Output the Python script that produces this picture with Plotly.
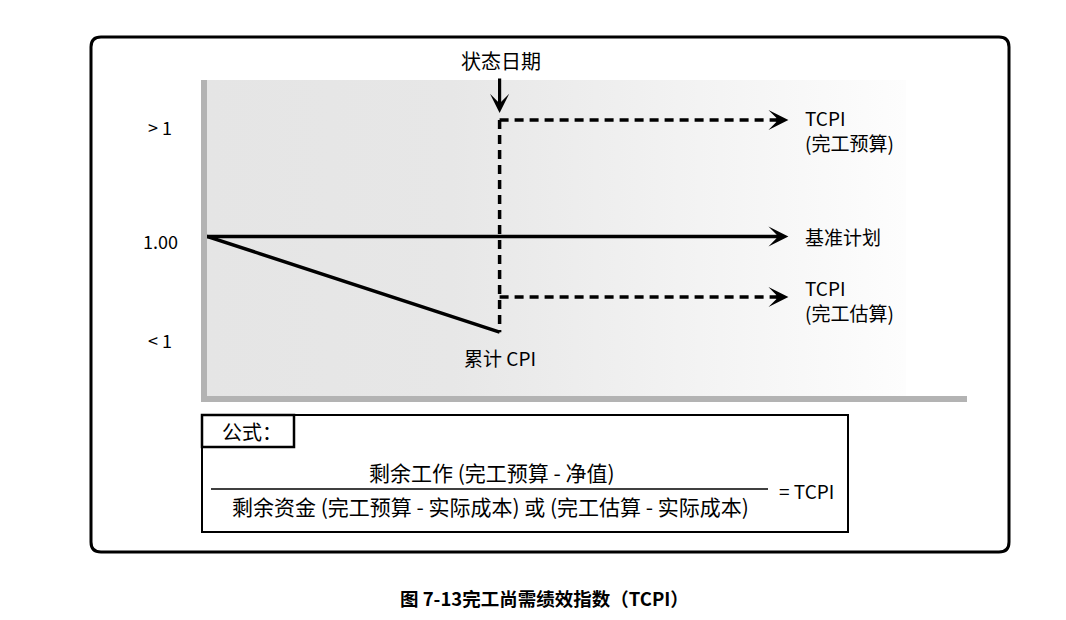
import plotly.graph_objects as go

# ---------------- data ----------------
x_start = 0.0          # project start
status_date = 3.85     # status date on the time axis
x_end = 7.65           # end of the projection arrows
baseline_cpi = 1.00
cumulative_cpi = 0.70
tcpi_bac = 1.365
tcpi_eac = 0.81
status_arrow_tip = 1.387

baseline_x = [x_start, x_end]
baseline_y = [baseline_cpi, baseline_cpi]
cpi_x = [x_start, status_date]
cpi_y = [baseline_cpi, cumulative_cpi]
status_x = [status_date, status_date]
status_y = [tcpi_bac, cumulative_cpi]
bac_x = [status_date, x_end]
bac_y = [tcpi_bac, tcpi_bac]
eac_x = [status_date, x_end]
eac_y = [tcpi_eac, tcpi_eac]

tick_labels = ['> 1', '1.00', '< 1']
tick_values = [1.343, 0.987, 0.675]

right_labels = ['TCPI<br>(完工预算)', '基准计划', 'TCPI<br>(完工估算)']
right_label_y = [1.333, 1.0, 0.80]

status_label = '状态日期'
cpi_label = '累计 CPI'
cpi_label_y = 0.622
formula_title = '公式：'
numerator = '剩余工作 (完工预算 - 净值)'
denominator = '剩余资金 (完工预算 - 实际成本) 或 (完工估算 - 实际成本)'
equals_text = '= TCPI'
caption = '图 7-13完工尚需绩效指数（TCPI）'

X_RANGE = [0, 10]
Y_RANGE = [0.5, 1.49]

# ---------------- layout geometry (pixels) ----------------
W, H = 1066, 620
L, R, T, B = 207, 967, 80, 396
FONT = 'Noto Sans CJK SC, Noto Sans, sans-serif'


def px(p):
    return (p - L) / (R - L)


def py(p):
    return (B - p) / (B - T)


def dx(p):
    return X_RANGE[0] + px(p) * (X_RANGE[1] - X_RANGE[0])


back = 8 / (R - L) * (X_RANGE[1] - X_RANGE[0])

fig = go.Figure()

# gradient background
gx = dx(906)
fig.add_trace(go.Scatter(
    x=[X_RANGE[0], gx, gx, X_RANGE[0], X_RANGE[0]],
    y=[Y_RANGE[0], Y_RANGE[0], Y_RANGE[1], Y_RANGE[1], Y_RANGE[0]],
    mode='lines', fill='toself', line=dict(width=0),
    fillgradient=dict(type='horizontal',
                      colorscale=[[0, '#e5e5e5'], [0.35, '#e7e7e7'], [1, '#fdfdfd']]),
    hoverinfo='skip', showlegend=False))

LW = 3.5
fig.add_trace(go.Scatter(x=[baseline_x[0], baseline_x[1] - back], y=baseline_y, mode='lines',
                         line=dict(color='black', width=LW), hoverinfo='skip', showlegend=False))
fig.add_trace(go.Scatter(x=cpi_x, y=cpi_y, mode='lines',
                         line=dict(color='black', width=LW), hoverinfo='skip', showlegend=False))
dash = '9px,6px'
fig.add_trace(go.Scatter(x=status_x, y=status_y, mode='lines',
                         line=dict(color='black', width=LW, dash=dash), hoverinfo='skip', showlegend=False))
fig.add_trace(go.Scatter(x=[bac_x[0], bac_x[1] - back], y=bac_y, mode='lines',
                         line=dict(color='black', width=LW, dash=dash), hoverinfo='skip', showlegend=False))
fig.add_trace(go.Scatter(x=[eac_x[0], eac_x[1] - back], y=eac_y, mode='lines',
                         line=dict(color='black', width=LW, dash=dash), hoverinfo='skip', showlegend=False))


def text_ann(x, y, text, size, xref='paper', yref='paper', **kw):
    d = dict(x=x, y=y, xref=xref, yref=yref, text=text, showarrow=False,
             xanchor='center', yanchor='middle',
             font=dict(family=FONT, size=size, color='black'))
    d.update(kw)
    return d


annotations = []
# arrowheads
for yy in [baseline_y[1], bac_y[1], eac_y[1]]:
    annotations.append(dict(x=x_end, y=yy, xref='x', yref='y', text='', showarrow=True,
                            ax=-14, ay=0, arrowhead=3, arrowwidth=LW, arrowsize=0.95,
                            arrowcolor='black'))
# status date arrow
annotations.append(dict(x=status_date, y=status_arrow_tip, xref='x', yref='y', text='',
                        showarrow=True, ax=0, ay=-36, arrowhead=3, arrowwidth=3.2,
                        arrowsize=1.0, arrowcolor='black'))
annotations.append(text_ann(px(501), py(61), status_label, 20))
# left labels
for lab, val in zip(tick_labels, tick_values):
    annotations.append(text_ann(px(160), val, lab, 18, yref='y'))
# right labels
for lab, val in zip(right_labels, right_label_y):
    annotations.append(text_ann(dx(803), val, lab, 19, xref='x', yref='y',
                                xanchor='left', align='left'))
annotations.append(text_ann(status_date, cpi_label_y, cpi_label, 19, xref='x', yref='y'))
# formula
annotations.append(text_ann(px(252), py(431), formula_title, 20))
annotations.append(text_ann(px(492), py(472), numerator, 21))
annotations.append(text_ann(px(490), py(506), denominator, 21))
annotations.append(text_ann(px(806), py(490), equals_text, 19))
annotations.append(text_ann(px(544), py(598), '<b>' + caption + '</b>', 18.5))

# shapes
x0, x1, y0, y1 = px(91), px(1009), py(37), py(552)
rx, ry = 10 / (R - L), 10 / (B - T)
outer = (f'M{x0 + rx},{y0} L{x1 - rx},{y0} Q{x1},{y0} {x1},{y0 - ry} '
         f'L{x1},{y1 + ry} Q{x1},{y1} {x1 - rx},{y1} L{x0 + rx},{y1} '
         f'Q{x0},{y1} {x0},{y1 + ry} L{x0},{y0 - ry} Q{x0},{y0} {x0 + rx},{y0} Z')
shapes = [
    dict(type='path', path=outer, xref='paper', yref='paper',
         line=dict(color='black', width=3)),
    dict(type='rect', xref='paper', yref='paper', x0=px(202), x1=px(848), y0=py(415), y1=py(532),
         line=dict(color='black', width=2)),
    dict(type='rect', xref='paper', yref='paper', x0=px(202), x1=px(294), y0=py(415), y1=py(447),
         line=dict(color='black', width=2.5)),
    dict(type='line', xref='paper', yref='paper', x0=px(211), x1=px(768), y0=py(489), y1=py(489),
         line=dict(color='black', width=1.5)),
]

fig.update_layout(
    width=W, height=H,
    margin=dict(l=L, r=W - R, t=T, b=H - B),
    paper_bgcolor='white', plot_bgcolor='white',
    showlegend=False,
    xaxis=dict(range=X_RANGE, showgrid=False, zeroline=False, showticklabels=False, ticks='',
               showline=True, linecolor='#b3b3b3', linewidth=6, fixedrange=True),
    yaxis=dict(range=Y_RANGE, showgrid=False, zeroline=False, showticklabels=False, ticks='',
               showline=True, linecolor='#b3b3b3', linewidth=6, fixedrange=True),
    annotations=annotations,
    shapes=shapes,
)

fig.write_html('out.html', config={'displayModeBar': False},
               post_script="document.body.style.margin='0';")
